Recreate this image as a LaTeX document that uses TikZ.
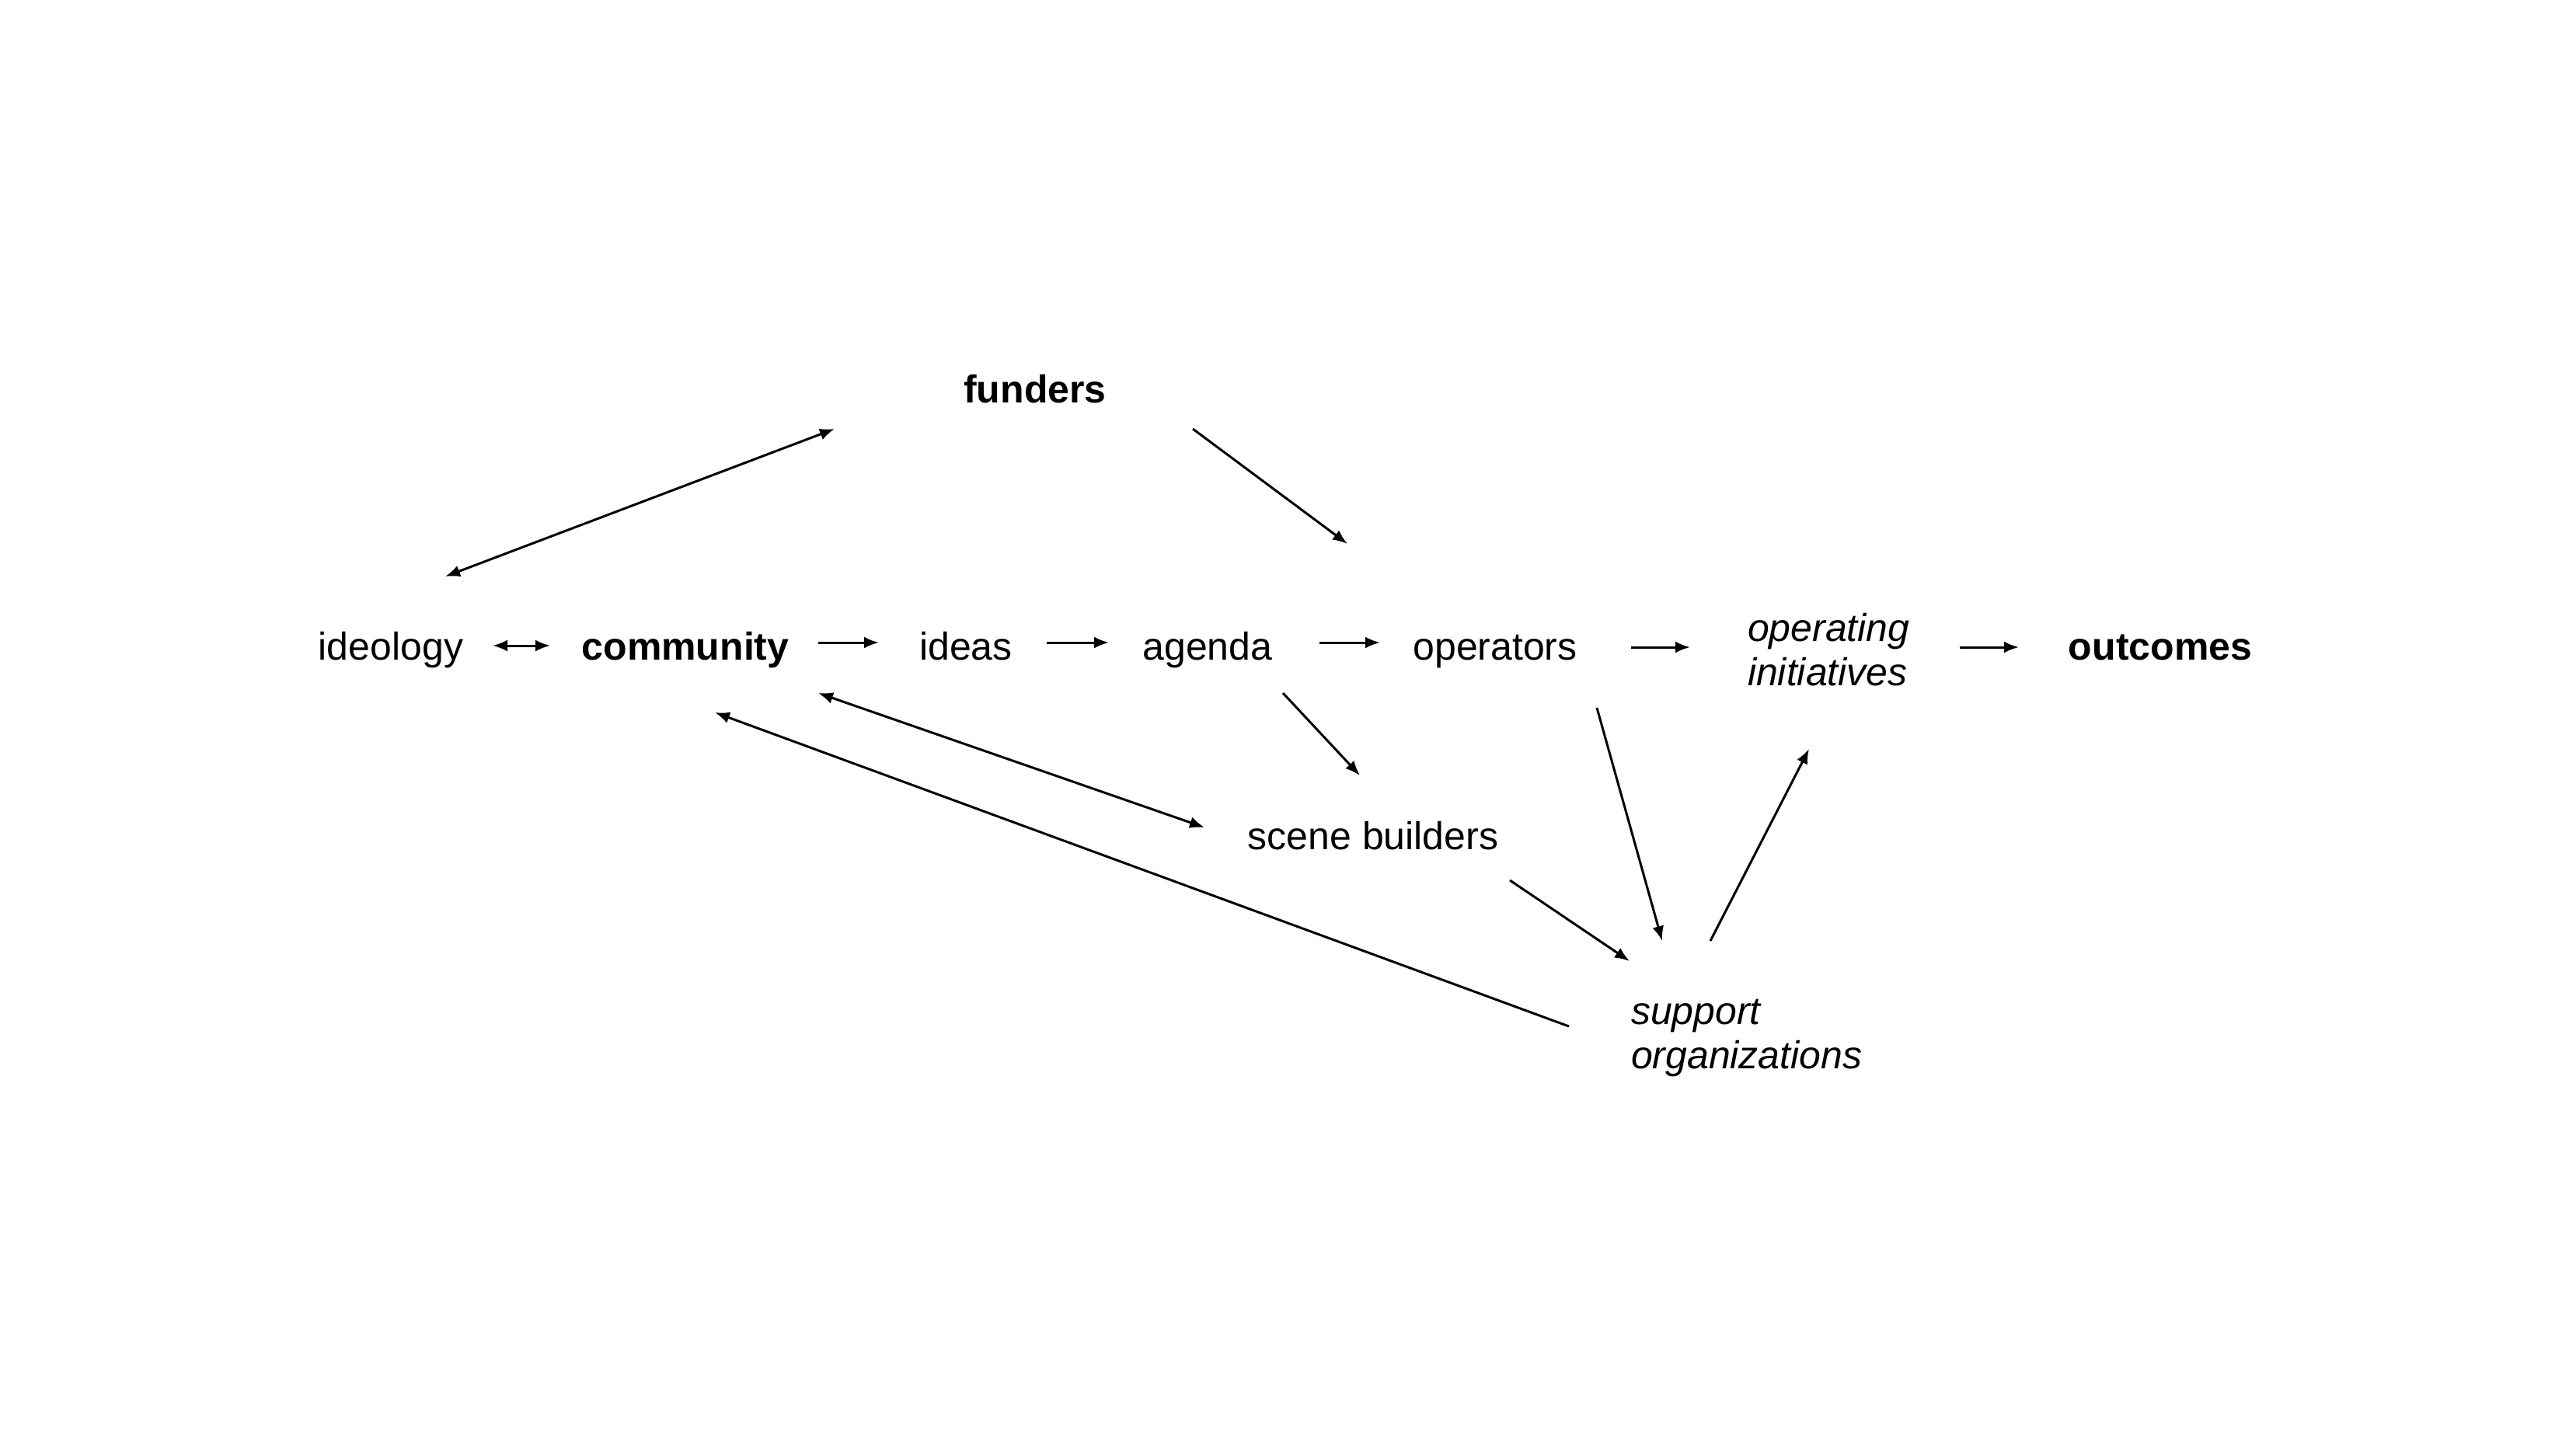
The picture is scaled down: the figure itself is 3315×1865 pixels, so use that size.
\documentclass[tikz,border=0pt]{standalone}
\usepackage{fontspec}
\setmainfont{Liberation Sans}
\usetikzlibrary{arrows.meta,calc}
\tikzset{
  lbl/.style={inner sep=0pt, outer sep=0pt, anchor=base, font=\fontsize{50}{57}\selectfont},
  lblb/.style={lbl, font=\fontsize{50}{57}\selectfont\bfseries},
  lbli/.style={lbl, anchor=base west, align=left, font=\fontsize{50}{57}\selectfont\itshape},
  tip/.tip={Latex[length=19pt,width=15pt]},
  arr/.style={line width=3pt, -tip},
  darr/.style={line width=3pt, tip-tip}
}
\begin{document}
\begin{tikzpicture}[x=1pt,y=-1pt]
\useasboundingbox[fill=white] (0,0) rectangle (3315,1865);
\node[lblb] (F) at (1332,518) {funders};
\node[lbl]  (I) at (503,849) {ideology};
\node[lblb] (C) at (882,849) {community};
\node[lbl]  (D) at (1243,849) {ideas};
\node[lbl]  (A) at (1554,849) {agenda};
\node[lbl]  (O) at (1924,849) {operators};
\node[lbli] (P) at (2249,882) {operating\\initiatives};
\node[lblb] (T) at (2780,849) {outcomes};
\node[lbl]  (S) at (1767,1093) {scene builders};
\node[lbli] (G) at (2099,1375) {support\\organizations};

\draw[darr] ($(I.base)+(70,-107)$) -- ($(F.base)+(-258,34)$);
\draw[arr]  ($(F.base)+(203,34)$) -- ($(O.base)+(-190,-149)$);
\draw[darr] ($(I.base)+(131,-18)$) -- ($(C.base)+(-174,-18)$);
\draw[arr]  ($(C.base)+(171,-22)$) -- ($(D.base)+(-112,-22)$);
\draw[arr]  ($(D.base)+(104,-22)$) -- ($(A.base)+(-127,-22)$);
\draw[arr]  ($(A.base)+(144,-22)$) -- ($(O.base)+(-148,-22)$);
\draw[arr]  ($(O.base)+(175,-16)$) -- ($(P.base west)+(-74,-49)$);
\draw[arr]  ($(P.base west)+(273,-49)$) -- ($(T.base)+(-182,-16)$);
\draw[arr]  ($(A.base)+(97,43)$) -- ($(S.base)+(-17,-95)$);
\draw[darr] ($(C.base)+(171,43)$) -- ($(S.base)+(-217,-28)$);
\draw[arr]  ($(G.base west)+(-80,-54)$) -- ($(C.base)+(38,68)$);
\draw[arr]  ($(S.base)+(176,40)$) -- ($(G.base west)+(-2,-138)$);
\draw[arr]  ($(O.base)+(131,62)$) -- ($(G.base west)+(40,-164)$);
\draw[arr]  ($(G.base west)+(102,-164)$) -- ($(P.base west)+(79,82)$);
\end{tikzpicture}
\end{document}
